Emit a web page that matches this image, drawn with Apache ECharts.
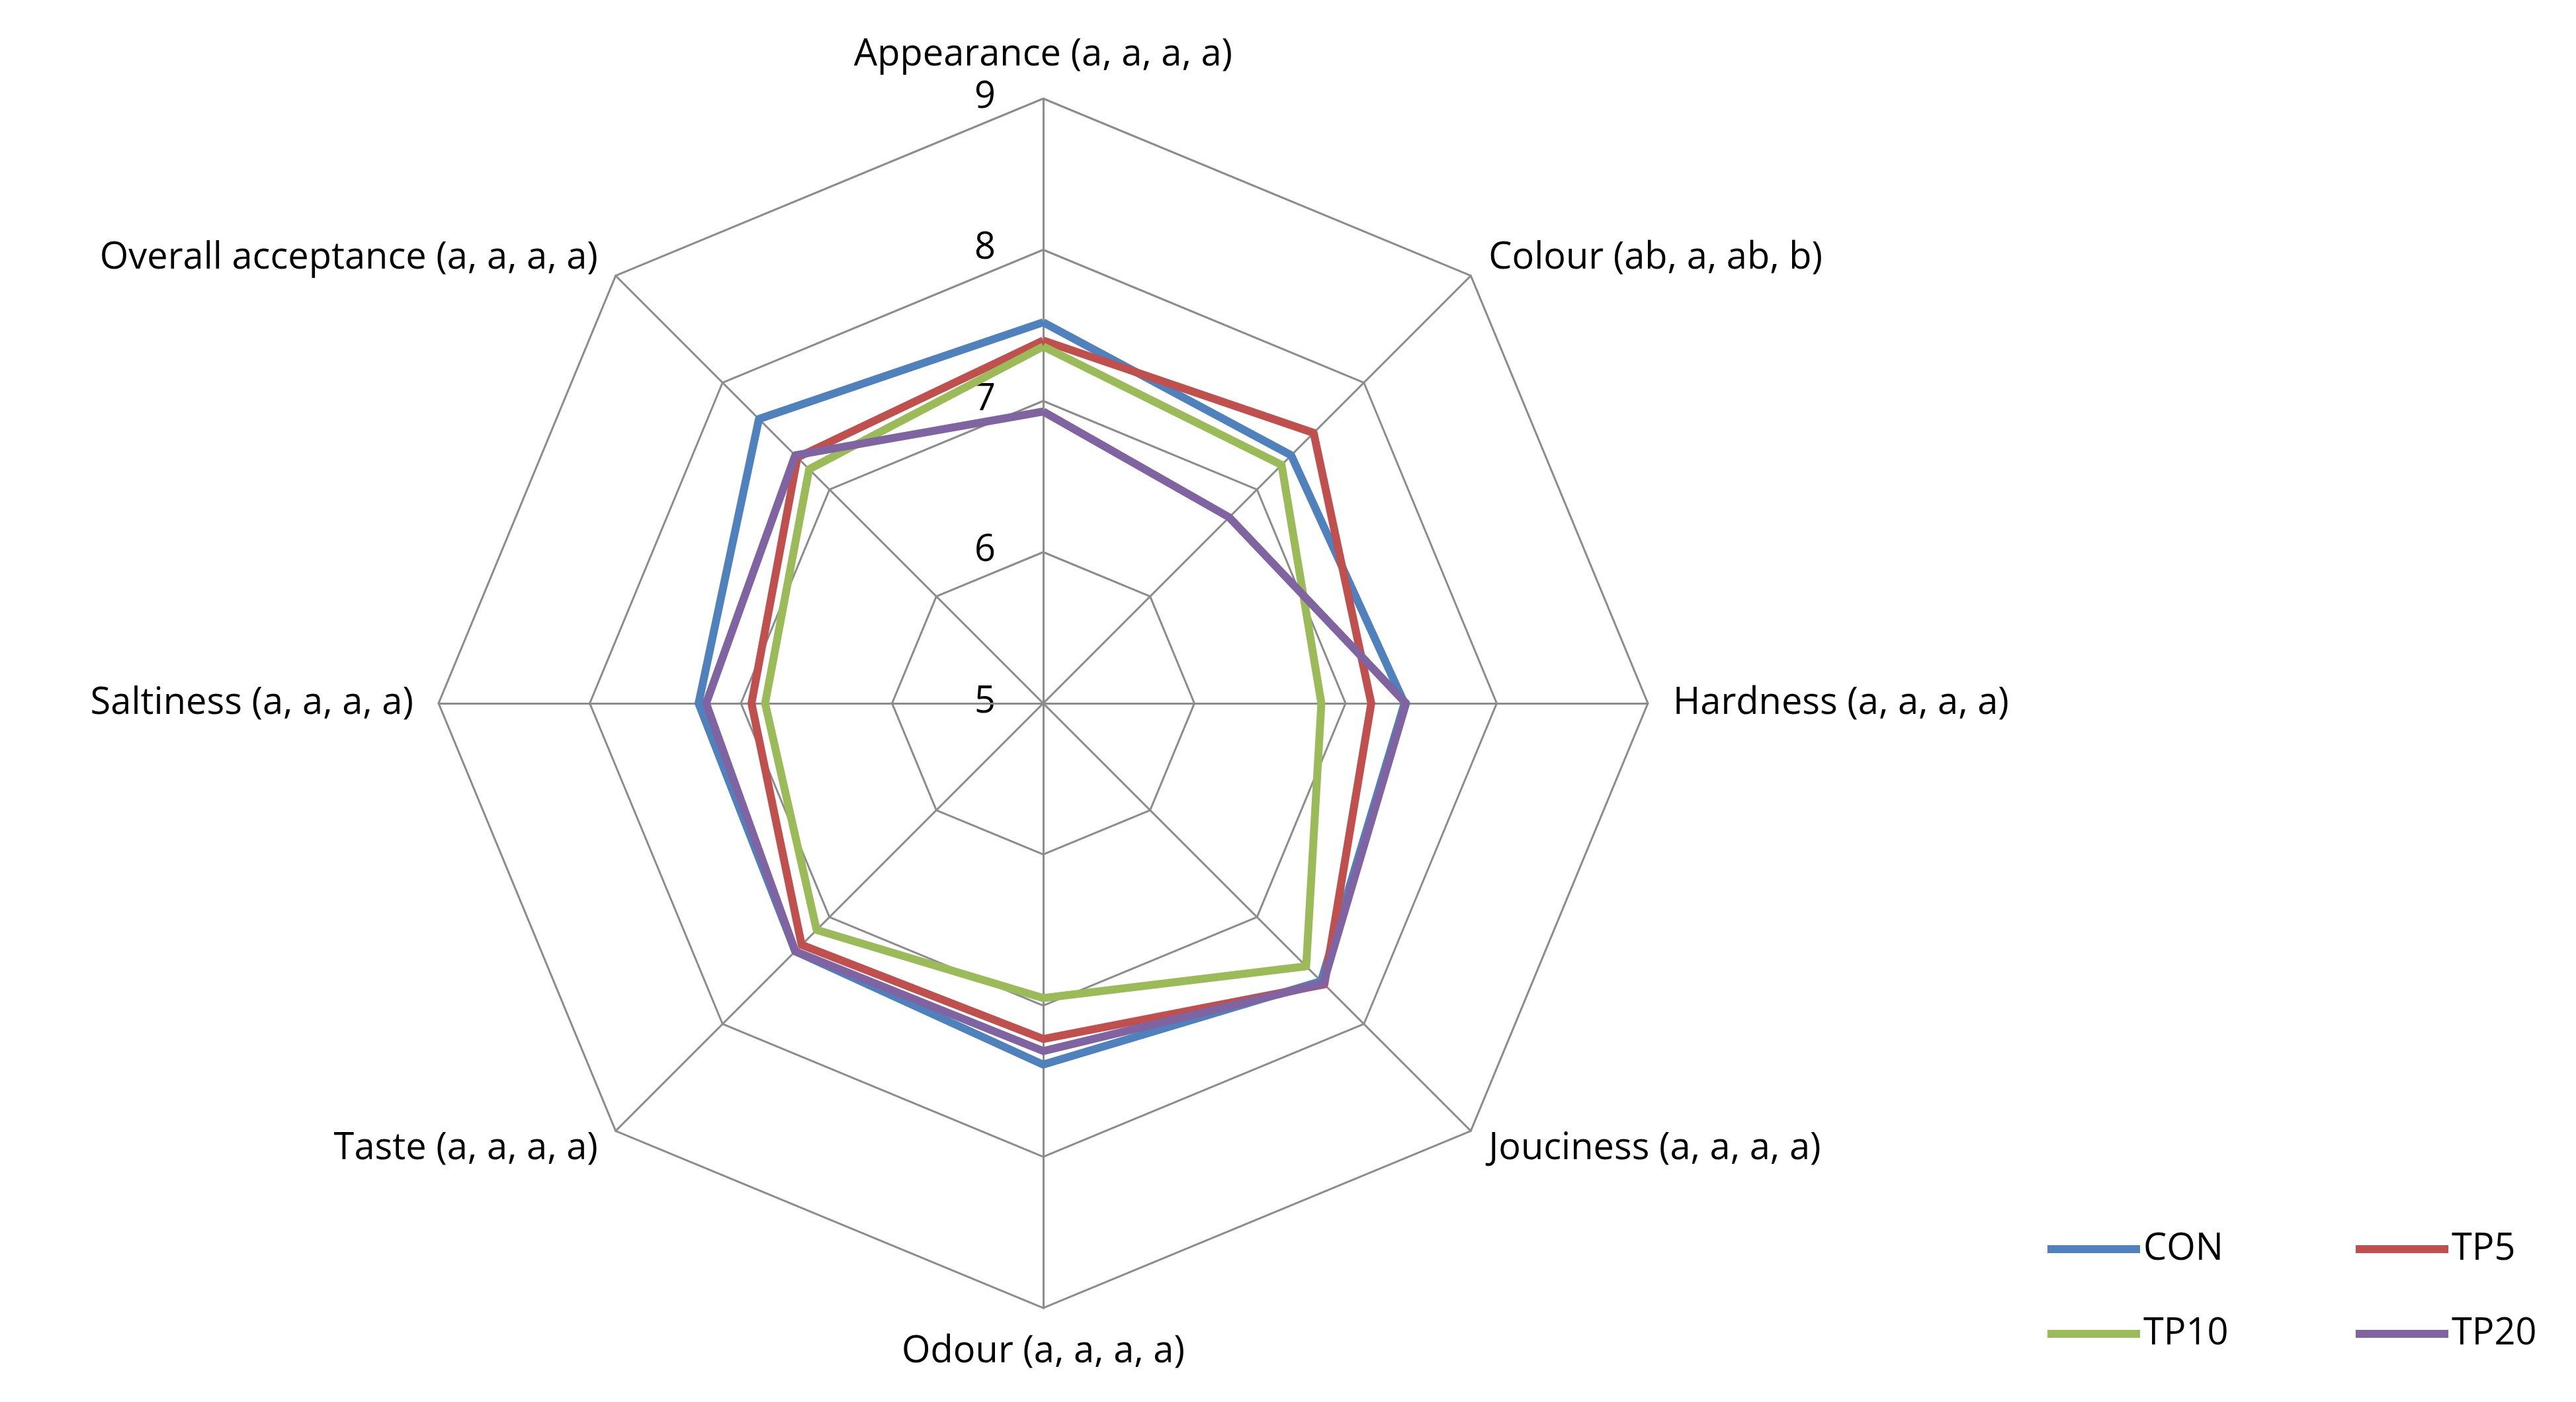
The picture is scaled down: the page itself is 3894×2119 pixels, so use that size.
<!DOCTYPE html>
<html style="height: 100%">
<head>
  <meta charset="utf-8">
  <script src="https://cdn.jsdelivr.net/npm/echarts@6/dist/echarts.min.js"></script>
</head>
<body style="height: 100%; margin: 0; background: #fff">
<div id="container" style="width: 3894px; height: 2119px"></div>
<script>
// indicators listed counter-clockwise from the top (ECharts draws them that way)
let attributes = ['Appearance (a, a, a, a)', 'Overall acceptance (a, a, a, a)', 'Saltiness (a, a, a, a)',
  'Taste (a, a, a, a)', 'Odour (a, a, a, a)', 'Jouciness (a, a, a, a)', 'Hardness (a, a, a, a)', 'Colour (ab, a, ab, b)'];
let conValues  = [7.52, 7.66, 7.28, 7.32, 7.39, 7.60, 7.39, 7.32];
let tp5Values  = [7.40, 7.30, 6.93, 7.26, 7.22, 7.63, 7.17, 7.53];
let tp10Values = [7.36, 7.19, 6.84, 7.12, 6.95, 7.46, 6.84, 7.23];
let tp20Values = [6.93, 7.32, 7.23, 7.32, 7.30, 7.62, 7.40, 6.74];
let seriesNames = ['CON', 'TP5', 'TP10', 'TP20'];
let colors = ['#4F81BD', '#C0504D', '#9BBB59', '#8064A2'];

let myChart = echarts.init(document.getElementById('container'));
let font = 'Open Sans';

let legendBase = {
  orient: 'vertical', top: 1855, itemWidth: 140, itemHeight: 12, itemGap: 72,
  icon: 'rect', textStyle: { fontSize: 56, fontFamily: font, color: '#000' }
};

let option = {
  color: colors,
  animation: false,
  legend: [
    Object.assign({ left: 3090, data: ['CON', 'TP10'] }, legendBase),
    Object.assign({ left: 3556, data: ['TP5', 'TP20'] }, legendBase)
  ],
  radar: {
    center: [1577, 1063],
    radius: 914,
    startAngle: 90,
    shape: 'polygon',
    splitNumber: 4,
    indicator: attributes.map(function (name) {
      return { name: name, min: 5, max: 9 };
    }),
    axisName: { color: '#000', fontSize: 56, fontFamily: font },
    nameGap: 38,
    splitLine: { lineStyle: { color: '#8c8c8c', width: 3 } },
    splitArea: { show: false },
    axisLine: { lineStyle: { color: '#8c8c8c', width: 3 } },
    axisLabel: { show: false }
  },
  series: [{
    type: 'radar',
    symbol: 'none',
    data: [conValues, tp5Values, tp10Values, tp20Values].map(function (v, i) {
      return { name: seriesNames[i], value: v, lineStyle: { color: colors[i], width: 12 }, itemStyle: { color: colors[i] } };
    })
  }],
  graphic: [5, 6, 7, 8, 9].map(function (t) {
    return {
      type: 'text', right: 3894 - 1505, top: 1063 - (t - 5) * 228.5 - 30,
      style: { text: String(t), fontSize: 56, fontFamily: font, fill: '#000' }
    };
  })
};
myChart.setOption(option);
</script>
</body>
</html>
